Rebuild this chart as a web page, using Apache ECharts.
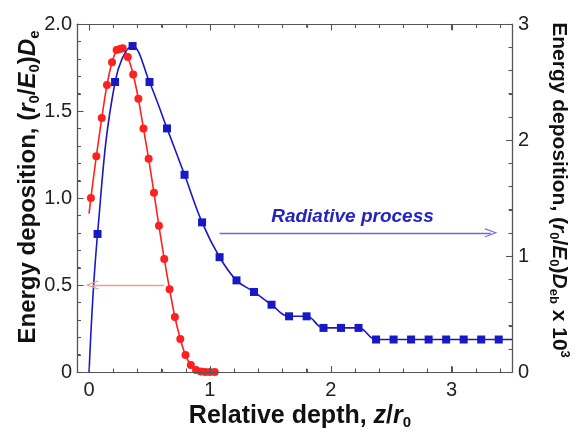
<!DOCTYPE html>
<html>
<head>
<meta charset="utf-8">
<script src="https://cdn.jsdelivr.net/npm/echarts@6/dist/echarts.min.js"></script>
<style>
  html, body { margin: 0; padding: 0; background: #fff; }
  #chart { width: 578px; height: 432px; background: #fff; }
</style>
</head>
<body>
<div id="chart"></div>
<script>
// electron-like curve (left axis), first point is the line start without a marker
const redX = [0.0, 0.015, 0.06, 0.105, 0.148, 0.19, 0.228, 0.255, 0.278, 0.32, 0.365, 0.408, 0.45, 0.493,
  0.537, 0.578, 0.622, 0.666, 0.71, 0.755, 0.798, 0.842, 0.885, 0.925, 0.962, 1.0, 1.04];
const redY = [0.91, 1.0, 1.24, 1.46, 1.65, 1.78, 1.85, 1.857, 1.86, 1.81, 1.71, 1.57, 1.40, 1.225,
  1.03, 0.84, 0.65, 0.476, 0.316, 0.19, 0.097, 0.04, 0.012, 0.003, 0.0, 0.0, 0.0];

// radiative curve (right axis, x 10^3), first/last points are line ends without markers
const blueX = [0, 0.07, 0.215, 0.36, 0.50, 0.645, 0.79, 0.935, 1.08, 1.22, 1.365, 1.51, 1.655, 1.80,
  1.94, 2.085, 2.23, 2.375, 2.52, 2.665, 2.81, 2.955, 3.10, 3.245, 3.39, 3.5];
const blueY = [0, 1.19, 2.50, 2.81, 2.50, 2.10, 1.70, 1.29, 0.99, 0.79, 0.69, 0.58, 0.48, 0.48,
  0.38, 0.38, 0.38, 0.28, 0.28, 0.28, 0.28, 0.28, 0.28, 0.28, 0.28, 0.28];

const xMajor = [0, 1, 2, 3];
const xMinor = [0.2, 0.4, 0.6, 0.8, 1.2, 1.4, 1.6, 1.8, 2.2, 2.4, 2.6, 2.8, 3.2, 3.4];
const yLeftMajor = [0, 0.5, 1.0, 1.5, 2.0];
const yLeftMinor = [0.1, 0.2, 0.3, 0.4, 0.6, 0.7, 0.8, 0.9, 1.1, 1.2, 1.3, 1.4, 1.6, 1.7, 1.8, 1.9];
const yRightMajor = [0, 1, 2, 3];
const yRightMinor = [0.2, 0.4, 0.6, 0.8, 1.2, 1.4, 1.6, 1.8, 2.2, 2.4, 2.6, 2.8];

// annotation arrows (data coords of the series they belong to)
const redArrow = [[0.62, 0.5], [0.025, 0.5]];
const blueArrow = [[1.08, 1.2], [3.325, 1.2]];
const labelPos = [2.18, 1.34];

const FONT = 'Liberation Sans, Arial, sans-serif';
const RED = '#ff2020';
const BLUE = '#1818c4';
const AXIS = '#555';
// open arrow head, tip pointing up (markLine rotates it along the line)
const CHEVRON = 'path://M5,0 L10,9.3 L9,10 L5,2.4 L1,10 L0,9.3 Z';

const chart = echarts.init(document.getElementById('chart'));

function rich(size, sub) {
  return {
    i: { fontStyle: 'italic', fontWeight: 'bold', fontSize: size, fontFamily: FONT, fill: '#111' },
    sub: { fontSize: sub, fontWeight: 'bold', fontFamily: FONT, fill: '#111', padding: [Math.round(sub * 0.85), 0, 0, 0] },
    sup: { fontSize: sub, fontWeight: 'bold', fontFamily: FONT, fill: '#111', padding: [0, 0, Math.round(sub * 0.85), 0] }
  };
}
function axisTitle(text, x, y, rotation, size, sub) {
  return {
    type: 'text', x: x, y: y, rotation: rotation, silent: true,
    style: {
      text: text, fontSize: size, fontWeight: 'bold', fontFamily: FONT, fill: '#111',
      align: 'center', verticalAlign: 'middle', rich: rich(size, sub)
    }
  };
}

function xAx(pos, ticks, len, withLabels, showLine) {
  return {
    type: 'value', position: pos, min: -0.1, max: 3.5,
    axisLine: { show: showLine, onZero: false, lineStyle: { color: AXIS, width: 1.2 } },
    axisTick: { show: true, inside: true, length: len, customValues: ticks, lineStyle: { color: AXIS } },
    axisLabel: withLabels
      ? { show: true, customValues: ticks, fontSize: 20, fontFamily: FONT, color: '#222', margin: 8 }
      : { show: false },
    splitLine: { show: false }
  };
}

chart.setOption({
  animation: false,
  grid: { left: 77, right: 66, top: 24, bottom: 60, outerBoundsMode: 'none', containLabel: false },
  xAxis: [
    xAx('bottom', xMajor, 6, true, true),
    xAx('bottom', xMinor, 3.5, false, false),
    xAx('top', xMajor, 6, false, true),
    xAx('top', xMinor, 3.5, false, false)
  ],
  yAxis: [
    {
      type: 'value', position: 'left', min: 0, max: 2, interval: 0.5,
      axisLine: { show: true, onZero: false, lineStyle: { color: AXIS, width: 1.2 } },
      axisTick: { inside: true, length: 6, lineStyle: { color: AXIS } },
      minorTick: { show: true, splitNumber: 5, length: 3.5, lineStyle: { color: AXIS } },
      axisLabel: {
        fontSize: 20, fontFamily: FONT, color: '#222', margin: 5,
        formatter: v => (v === 0 ? '0' : v.toFixed(1))
      },
      splitLine: { show: false }
    },
    {
      type: 'value', position: 'right', min: 0, max: 3, interval: 1,
      axisLine: { show: true, onZero: false, lineStyle: { color: AXIS, width: 1.2 } },
      axisTick: { inside: true, length: 6, lineStyle: { color: AXIS } },
      minorTick: { show: true, splitNumber: 5, length: 3.5, lineStyle: { color: AXIS } },
      axisLabel: { fontSize: 20, fontFamily: FONT, color: '#222', margin: 6 },
      splitLine: { show: false }
    }
  ],
  series: [
    {
      name: 'electron', type: 'line', xAxisIndex: 0, yAxisIndex: 0,
      smooth: 0.25,
      data: redX.map((x, i) => (i === 0 ? { value: [x, redY[i]], symbol: 'none' } : [x, redY[i]])),
      symbol: 'circle', symbolSize: 8,
      lineStyle: { color: RED, width: 1.6 },
      itemStyle: { color: RED },
      markLine: {
        silent: true, animation: false,
        symbol: ['none', CHEVRON], symbolSize: [9, 13],
        label: { show: false },
        lineStyle: { color: '#f49a9a', width: 1.3, type: 'solid' },
        data: [[{ coord: redArrow[0] }, { coord: redArrow[1] }]]
      }
    },
    {
      name: 'radiative', type: 'line', xAxisIndex: 0, yAxisIndex: 1,
      smooth: 0.4,
      data: blueX.map((x, i) => (i === 0 || i === blueX.length - 1
        ? { value: [x, blueY[i]], symbol: 'none' } : [x, blueY[i]])),
      symbol: 'rect', symbolSize: 8,
      lineStyle: { color: BLUE, width: 1.6 },
      itemStyle: { color: BLUE },
      markLine: {
        silent: true, animation: false,
        symbol: ['none', CHEVRON], symbolSize: [9, 13],
        label: { show: false },
        lineStyle: { color: '#6b6be0', width: 1.3, type: 'solid' },
        data: [[{ coord: blueArrow[0] }, { coord: blueArrow[1] }]]
      },
      markPoint: {
        silent: true, animation: false,
        symbol: 'circle', symbolSize: 0,
        label: {
          show: true, position: 'inside', formatter: 'Radiative process',
          fontStyle: 'italic', fontWeight: 'bold', fontSize: 19, fontFamily: FONT, color: '#2424c0'
        },
        data: [{ coord: labelPos }]
      }
    }
  ]
});

// frame box and inside ticks, placed through each series' coordinate system
const px = v => Math.round(chart.convertToPixel({ seriesIndex: 0 }, [v, 0])[0]) + 0.5;
const pyL = v => Math.round(chart.convertToPixel({ seriesIndex: 0 }, [0, v])[1]) + 0.5;
const pyR = v => Math.round(chart.convertToPixel({ seriesIndex: 1 }, [0, v])[1]) + 0.5;
const x0 = px(-0.1), x1 = px(3.5), y0 = pyL(0), y1 = pyL(2);
const frame = [];
const seg = (a, b, c, d) => frame.push({
  type: 'line', silent: true, z: 50, shape: { x1: a, y1: b, x2: c, y2: d },
  style: { stroke: AXIS, lineWidth: 1.1 }
});
seg(x0, y0, x1, y0); seg(x0, y1, x1, y1); seg(x0, y0, x0, y1); seg(x1, y0, x1, y1);
xMajor.forEach(v => { seg(px(v), y0, px(v), y0 - 6); seg(px(v), y1, px(v), y1 + 6); });
xMinor.forEach(v => { seg(px(v), y0, px(v), y0 - 3.5); seg(px(v), y1, px(v), y1 + 3.5); });
yLeftMajor.forEach(v => seg(x0, pyL(v), x0 + 6, pyL(v)));
yLeftMinor.forEach(v => seg(x0, pyL(v), x0 + 3.5, pyL(v)));
yRightMajor.forEach(v => seg(x1, pyR(v), x1 - 6, pyR(v)));
yRightMinor.forEach(v => seg(x1, pyR(v), x1 - 3.5, pyR(v)));

chart.setOption({
  graphic: [
    axisTitle('Relative depth, {i|z}/{i|r}{sub|0}', 300, 416, 0, 25, 15),
    axisTitle('Energy deposition, ({i|r}{sub|0}/{i|E}{sub|0}){i|D}{sub|e}', 28, 187, Math.PI / 2, 24, 15),
    axisTitle('Energy deposition, ({i|r}{sub|0}/{i|E}{sub|0}){i|D}{sub|eb} x 10{sup|3}', 559, 190, -Math.PI / 2, 21, 13)
  ].concat(frame)
});
</script>
</body>
</html>
